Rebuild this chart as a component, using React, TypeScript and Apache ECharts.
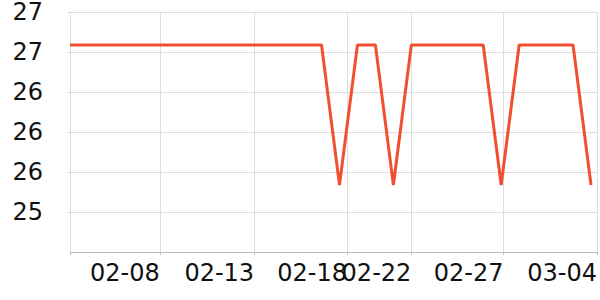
import React, { useEffect, useRef } from "react";
import * as echarts from "echarts";

const DAY = 24 * 3600 * 1000;
const startDate = "2023-02-03";
const HI = 26.87;
const LO = 25.47;
const values: number[] = [
  HI, HI, HI, HI, HI, HI, HI, HI, HI, HI,
  HI, HI, HI, HI, HI, LO, HI, HI, LO, HI,
  HI, HI, HI, HI, LO, HI, HI, HI, HI, LO,
];
const dates: number[] = values.map((_, i) => Date.parse(startDate + "T00:00:00Z") + i * DAY);

const xMin = "2023-02-03T00:00:00Z";
const xMax = "2023-03-04T08:00:00Z";
const tickDates: string[] = [
  "2023-02-08T00:00:00Z",
  "2023-02-13T06:00:00Z",
  "2023-02-18T10:00:00Z",
  "2023-02-22T00:00:00Z",
  "2023-02-27T03:00:00Z",
  "2023-03-04T08:00:00Z",
];

const yMin = 24.8;
const yMax = 27.2;
const yInterval = 0.4;

const pad = (n: number) => (n < 10 ? "0" + n : "" + n);

export default function App() {
  const ref = useRef<HTMLDivElement>(null);
  useEffect(() => {
    document.body.style.margin = "0";
    if (!ref.current) return;
    const chart = echarts.init(ref.current, undefined, { renderer: "svg" });
    const tickVals = tickDates.map((d) => Date.parse(d));
    chart.setOption({
      animation: false,
      grid: { left: 70, right: 0, top: 10.5, bottom: 48, containLabel: false },
      xAxis: {
        type: "value",
        min: Date.parse(xMin),
        max: Date.parse(xMax),
        axisLine: { show: true, lineStyle: { color: "#bbbbbb", width: 1 } },
        axisTick: {
          show: true,
          length: 3,
          lineStyle: { color: "#bbbbbb" },
          customValues: [Date.parse(xMin), ...tickVals],
        },
        splitLine: { show: true, lineStyle: { color: "#dddddd", width: 1 } },
        axisLabel: {
          customValues: tickVals,
          align: "right",
          margin: 9,
          fontFamily: "DejaVu Sans",
          fontSize: 24,
          color: "#111111",
          formatter: (v: number) => {
            const d = new Date(v);
            return pad(d.getUTCMonth() + 1) + "-" + pad(d.getUTCDate());
          },
        },
      },
      yAxis: {
        type: "value",
        min: yMin,
        max: yMax,
        interval: yInterval,
        axisLine: { show: true, lineStyle: { color: "#dddddd" } },
        axisTick: { show: true, length: 2, lineStyle: { color: "#cccccc" } },
        splitLine: { show: true, lineStyle: { color: "#dddddd", width: 1 } },
        axisLabel: {
          showMinLabel: false,
          margin: 27,
          fontFamily: "DejaVu Sans",
          fontSize: 24,
          color: "#111111",
          formatter: (v: number) => Math.round(v).toString(),
        },
      },
      series: [
        {
          type: "line",
          data: dates.map((d, i) => [d, values[i]]),
          showSymbol: false,
          symbol: "none",
          lineStyle: { color: "#f0502f", width: 3 },
        },
      ],
    });
    return () => chart.dispose();
  }, []);
  return <div ref={ref} style={{ width: 600, height: 300 }} />;
}
